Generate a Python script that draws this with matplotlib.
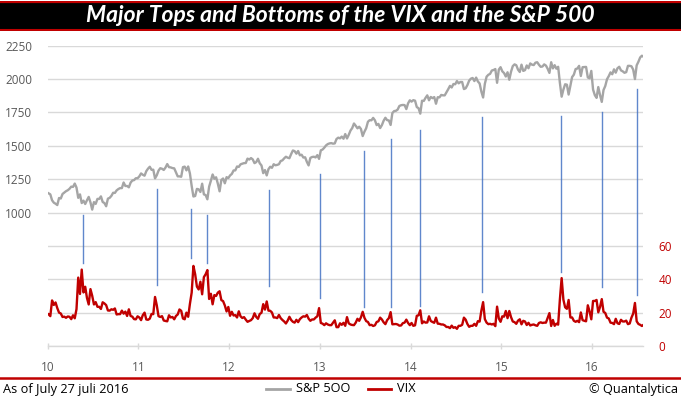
import numpy as np
import matplotlib
matplotlib.use("Agg")
import matplotlib.pyplot as plt
from matplotlib.lines import Line2D

# ---------------- data (weekly closes) ----------------
spx_2010 = [1144, 1136, 1092, 1074, 1066, 1056, 1109, 1105, 1139, 1150, 1160, 1167,
            1178, 1194, 1192, 1217, 1187, 1110, 1136, 1071, 1089, 1064, 1092, 1117, 1076,
            1022, 1078, 1065, 1102, 1102, 1121, 1079, 1071, 1047, 1104, 1110, 1125, 1148,
            1147, 1166, 1176, 1183, 1183, 1225, 1199, 1199, 1189, 1224, 1240, 1243, 1257, 1257]
spx_2011 = [1271, 1293, 1283, 1276, 1310, 1329, 1343, 1320, 1321, 1256, 1279, 1314,
            1332, 1328, 1319, 1337, 1363, 1340, 1338, 1333, 1331, 1300, 1271, 1271, 1268,
            1340, 1344, 1316, 1345, 1292, 1199, 1120, 1124, 1177, 1174, 1154, 1216, 1136, 1131,
            1099, 1194, 1238, 1285, 1253, 1264, 1216, 1159, 1244, 1255, 1219, 1265, 1258]
spx_2012 = [1278, 1289, 1315, 1316, 1345, 1342, 1361, 1366, 1370, 1371, 1404, 1397, 1408,
            1398, 1370, 1378, 1403, 1369, 1353, 1295, 1318, 1278, 1325, 1343, 1335, 1362,
            1354, 1357, 1362, 1386, 1391, 1406, 1418, 1411, 1407, 1438, 1465, 1460, 1441,
            1461, 1429, 1433, 1412, 1414, 1380, 1353, 1409, 1416, 1418, 1413, 1430, 1402]
spx_2013 = [1466, 1472, 1486, 1503, 1513, 1518, 1520, 1516, 1518, 1551, 1561, 1556, 1569,
            1553, 1588, 1555, 1582, 1614, 1633, 1667, 1650, 1631, 1643, 1626, 1573, 1606,
            1632, 1680, 1692, 1691, 1709, 1691, 1655, 1664, 1633, 1655, 1688, 1710, 1692,
            1690, 1656, 1745, 1760, 1762, 1771, 1798, 1804, 1806, 1805, 1775, 1818, 1841]
spx_2014 = [1831, 1842, 1838, 1790, 1782, 1741, 1838, 1836, 1859, 1878, 1841, 1866, 1857,
            1865, 1815, 1864, 1863, 1881, 1878, 1878, 1901, 1924, 1949, 1937, 1963, 1961,
            1985, 1968, 1978, 1978, 1925, 1931, 1955, 1988, 2003, 2008, 1985, 2011, 1982,
            1967, 1906, 1862, 1965, 2018, 2032, 2039, 2064, 2068, 2075, 1972, 2071, 2089]
spx_2015 = [2058, 2045, 2019, 2051, 1995, 2055, 2097, 2110, 2104, 2071, 2053, 2108, 2061,
            2067, 2102, 2081, 2117, 2108, 2105, 2123, 2126, 2107, 2092, 2094, 2110, 2101,
            2077, 2046, 2126, 2080, 2104, 2078, 2092, 1971, 1868, 1921, 1961, 1958, 1884,
            1951, 2015, 2033, 2075, 2079, 2099, 2023, 2089, 2090, 2091, 2012, 2006, 2061]
spx_2016 = [1922, 1880, 1859, 1940, 1880, 1829, 1918, 1948, 1999, 2022, 2050, 2036,
            2073, 2048, 2081, 2092, 2065, 2058, 2047, 2052, 2099, 2099, 2096, 2071, 2000,
            2103, 2130, 2162, 2175, 2166]

vix_2010 = [19.0, 17.9, 27.3, 24.6, 26.1, 22.7, 20.0, 19.5, 17.4, 17.6, 16.9, 17.7,
            17.5, 16.1, 18.4, 16.6, 22.1, 41.0, 31.2, 45.8, 32.1, 35.5, 28.8, 24.9, 34.1,
            30.1, 24.9, 26.3, 23.5, 23.5, 22.2, 26.2, 25.5, 24.5, 21.3, 21.2, 22.0, 21.7,
            22.5, 18.9, 19.1, 19.1, 21.2, 19.4, 20.6, 18.0, 22.0, 18.0, 17.6, 16.1, 16.0, 17.8]
vix_2011 = [17.1, 15.5, 18.5, 20.0, 15.9, 15.7, 16.4, 19.2, 19.1, 29.4, 24.4, 17.9,
            17.4, 17.9, 15.3, 15.0, 14.8, 18.4, 17.1, 17.4, 16.0, 18.0, 18.9, 21.9, 21.1,
            16.5, 16.0, 20.0, 17.5, 25.3, 32.0, 48.0, 43.0, 35.6, 33.9, 38.5, 31.0, 41.3, 43.0,
            45.5, 28.2, 31.3, 25.0, 30.5, 30.0, 32.0, 32.8, 27.5, 26.9, 24.3, 20.7, 23.4]
vix_2012 = [18.1, 20.5, 18.3, 18.5, 17.1, 20.8, 17.8, 16.8, 17.3, 15.8, 14.5, 15.0, 15.5,
            16.7, 19.6, 17.4, 16.3, 19.2, 19.9, 25.1, 21.8, 26.7, 21.2, 21.1, 20.1, 17.1,
            17.1, 16.7, 18.6, 16.7, 15.6, 14.7, 13.5, 15.2, 17.5, 15.6, 14.5, 14.0, 15.7,
            14.3, 16.1, 17.1, 17.8, 17.6, 18.6, 16.4, 15.1, 15.9, 15.9, 17.0, 17.8, 22.7]
vix_2013 = [13.8, 13.4, 12.5, 13.6, 12.9, 12.5, 12.5, 14.0, 15.4, 11.3, 11.3, 13.6, 12.7,
            13.9, 12.1, 17.3, 13.6, 12.9, 12.6, 12.5, 14.0, 16.3, 15.1, 17.2, 20.5, 16.9,
            14.9, 14.4, 12.5, 12.7, 12.0, 12.4, 14.4, 14.8, 17.0, 15.9, 14.2, 13.1, 15.5,
            16.7, 20.3, 13.0, 13.1, 13.2, 12.9, 12.2, 12.3, 13.7, 14.0, 15.8, 13.8, 12.5]
vix_2014 = [13.8, 12.1, 12.4, 18.1, 18.4, 21.4, 13.6, 14.7, 14.0, 14.1, 17.8, 15.0, 14.4,
            13.9, 17.0, 13.4, 13.3, 12.9, 12.9, 12.4, 11.4, 11.4, 10.7, 12.2, 10.9, 11.3,
            10.3, 12.1, 12.1, 12.7, 17.0, 15.8, 13.2, 11.5, 12.1, 12.1, 13.3, 12.1, 14.9,
            14.6, 21.2, 26.3, 16.1, 14.0, 13.1, 13.3, 12.9, 13.3, 11.9, 23.6, 16.5, 14.5]
vix_2015 = [17.8, 17.6, 21.0, 16.7, 21.0, 17.3, 14.7, 14.3, 13.3, 15.2, 16.0, 13.0, 15.1,
            14.7, 12.6, 13.9, 12.3, 12.7, 12.9, 12.4, 12.1, 13.8, 14.2, 13.8, 14.0, 14.0,
            16.8, 19.7, 12.0, 15.6, 12.1, 13.4, 12.8, 28.0, 40.7, 27.8, 23.2, 22.3, 27.6,
            17.1, 17.1, 15.1, 14.5, 15.1, 14.3, 20.1, 15.5, 15.1, 14.8, 24.4, 20.7, 16.0]
vix_2016 = [27.0, 27.0, 27.6, 20.2, 23.4, 28.1, 20.5, 19.8, 17.0, 16.5, 14.0, 13.8,
            13.1, 16.3, 13.6, 13.2, 15.7, 14.7, 14.7, 15.2, 13.1, 13.5, 17.0, 19.4, 25.8,
            14.8, 13.2, 12.7, 12.0, 12.8]

years = [2010, 2011, 2012, 2013, 2014, 2015, 2016]
spx_by_year = [spx_2010, spx_2011, spx_2012, spx_2013, spx_2014, spx_2015, spx_2016]
vix_by_year = [vix_2010, vix_2011, vix_2012, vix_2013, vix_2014, vix_2015, vix_2016]

# Tops/bottoms connector lines: date (decimal year), top end (S&P scale), bottom end (VIX scale)
marker_dates = [2010.385, 2011.209, 2011.582, 2011.758, 2012.44, 2013.0, 2013.484,
                2013.78, 2014.10, 2014.79, 2015.66, 2016.11, 2016.495]
marker_top_spx = [982, 1177, 1027, 982, 1170, 1290, 1462, 1552, 1620, 1717, 1725, 1755, 1927]
marker_bottom_vix = [49.8, 36.6, 52.8, 49.8, 36.0, 28.8, 23.4, 23.4, 24.0, 32.4, 44.4, 35.4, 30.6]

x_tick_labels = ["10", "11", "12", "13", "14", "15", "16"]
spx_ticks = [0, 250, 500, 750, 1000, 1250, 1500, 1750, 2000, 2250]
vix_ticks = [0, 20, 40, 60]

title = "Major Tops and Bottoms of the VIX and the S&P 500"
footer_left = "As of July 27 juli 2016"
footer_right = "\u00a9 Quantalytica"

# ---------------- build series ----------------
def weekly_x(year, n):
    return year + (np.arange(n) + 0.5) / 52.0

x_all = np.concatenate([weekly_x(y, len(v)) for y, v in zip(years, spx_by_year)])
spx_all = np.concatenate([np.array(v, float) for v in spx_by_year])
xv_all = np.concatenate([weekly_x(y, len(v)) for y, v in zip(years, vix_by_year)])
vix_all = np.concatenate([np.array(v, float) for v in vix_by_year])

# ---------------- figure ----------------
FONT = ["Open Sans", "DejaVu Sans"]
plt.rcParams["font.family"] = FONT

W, H = 681, 399
fig = plt.figure(figsize=(W / 100, H / 100), dpi=100)
fig.patch.set_facecolor("white")

def fx(px):
    return px / W

def fy(py):
    return 1 - py / H

# title banner
banner = fig.add_axes([0, fy(31), 1, fy(1) - fy(31)])
banner.set_xlim(0, 1)
banner.set_ylim(0, 1)
banner.axis("off")
banner.add_patch(plt.Rectangle((0, 0), 1, 1, color="black", transform=banner.transAxes))
banner.add_line(Line2D([0, 1], [0.04, 0.04], color="#c00000", lw=2.2, transform=banner.transAxes))
banner.add_line(Line2D([0, 1], [0.97, 0.97], color="#c00000", lw=1.6, transform=banner.transAxes))
banner.text(0.5, 0.5, title, color="white", fontsize=16.5, fontweight="bold", fontstyle="italic",
            ha="center", va="center", family=["Lato", "DejaVu Sans"])

# main axes
left_px, right_px, top_px, bottom_px = 47.7, 643, 45.7, 346
ax = fig.add_axes([fx(left_px), fy(bottom_px), fx(right_px) - fx(left_px), fy(top_px) - fy(bottom_px)])
ax2 = ax.twinx()

spx_max = 2250
vix_max = 180
ax.set_xlim(2010, 2016.56)
ax.set_ylim(0, spx_max)
ax2.set_ylim(0, vix_max)

grid_color = "#d9d9d9"
text_grey = "#595959"
ax.set_yticks(spx_ticks)
ax.set_yticklabels([str(t) if t >= 1000 else "" for t in spx_ticks])
ax.yaxis.grid(True, color=grid_color, lw=1.0)
ax.set_axisbelow(True)
ax.tick_params(axis="y", length=0, labelsize=8.5, labelcolor=text_grey, pad=11)
ax.set_xticks(years)
ax.set_xticklabels(x_tick_labels)
ax.tick_params(axis="x", length=5, direction="inout", color=grid_color, width=1.0,
               labelsize=8.5, labelcolor=text_grey, pad=8)

ax2.set_yticks(vix_ticks)
ax2.set_yticklabels([str(t) for t in vix_ticks])
ax2.tick_params(axis="y", length=0, labelsize=8.5, labelcolor="#c00000", pad=11)

for a in (ax, ax2):
    for s in ("top", "left", "right"):
        a.spines[s].set_visible(False)
    a.spines["bottom"].set_color(grid_color)
    a.spines["bottom"].set_linewidth(1.0)
ax2.spines["bottom"].set_visible(False)

# connector lines (top in S&P units, bottom from VIX units via the axes scales)
scale = spx_max / vix_max
for d, t, b in zip(marker_dates, marker_top_spx, marker_bottom_vix):
    ax.plot([d, d], [b * scale, t], color="#4472c4", lw=1.0, alpha=0.85, zorder=2)

ax.plot(x_all, spx_all, color="#a5a5a5", lw=1.7, zorder=3, solid_joinstyle="round")
ax2.plot(xv_all, vix_all, color="#c00000", lw=1.7, zorder=3, solid_joinstyle="round")

# footer
fig.add_artist(Line2D([0, 1], [fy(378.3), fy(378.3)], color="#c00000", lw=1.8, transform=fig.transFigure))
fig.text(fx(3), fy(389), footer_left, fontsize=9.2, color="black", ha="left", va="center")
fig.text(fx(678), fy(389), footer_right, fontsize=9.2, color="black", ha="right", va="center")
fig.add_artist(Line2D([fx(266), fx(290)], [fy(389), fy(389)], color="#a5a5a5", lw=2.0, transform=fig.transFigure))
fig.text(fx(296), fy(389), "S&P 5OO", fontsize=9.2, color="black", ha="left", va="center")
fig.add_artist(Line2D([fx(368), fx(391)], [fy(389), fy(389)], color="#c00000", lw=2.0, transform=fig.transFigure))
fig.text(fx(397), fy(389), "VIX", fontsize=9.2, color="black", ha="left", va="center")

fig.savefig("out.png", dpi=100, facecolor="white")
